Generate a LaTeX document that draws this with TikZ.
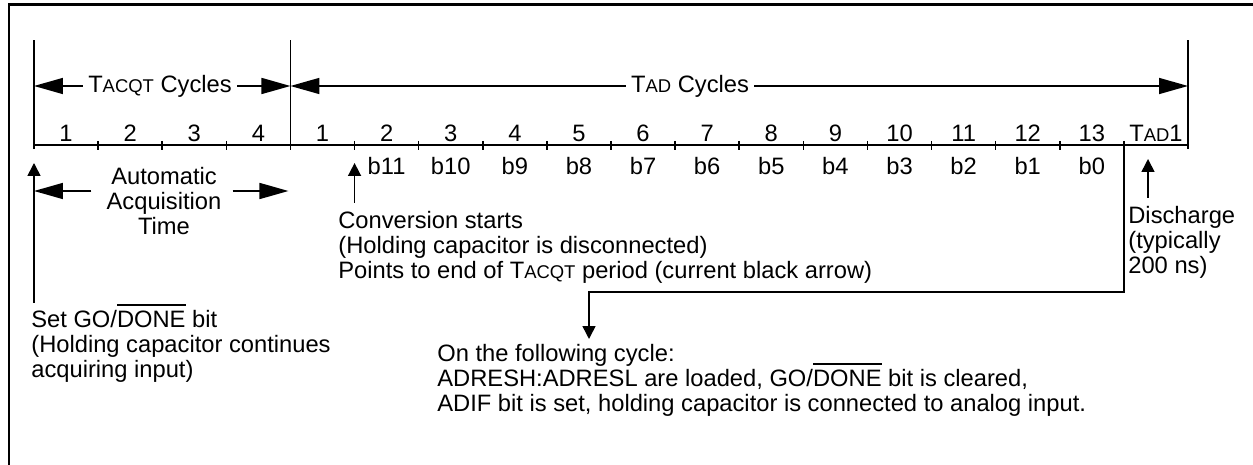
\documentclass[tikz,border=0pt]{standalone}
\usepackage{fontspec}
\setmainfont{Liberation Sans}
\usetikzlibrary{arrows.meta}
\newcommand{\scap}[1]{{\fontsize{10.5}{12}\selectfont #1}}
\newcommand{\ovl}[1]{{\setbox0\hbox{#1}\rlap{\smash{\rule[0.92em]{\wd0}{0.06em}}}\box0}}

\begin{document}
\begin{tikzpicture}[x=0.02cm,y=-0.02cm,
	txt/.style={inner sep=0pt,font=\fontsize{13.5}{14.2}\selectfont},
	frame/.style={line width=1.7pt},
	axis/.style={line width=0.9pt},
	bigarr/.style={line width=0.9pt,-{Triangle[length=0.58cm,width=0.32cm]}},
	smallarr/.style={line width=0.9pt,-{Triangle[length=0.26cm,width=0.26cm]}}]
		%%%%% START %%%%%
		\useasboundingbox (0,0) rectangle (1253,465);
		\draw[frame] (9,465) -- (9,5) -- (1253,5);
		
		% time axis
		\foreach \i in {0,...,18}
			\coordinate (c\i) at ({34+64.111*\i},145);
		\draw[axis] (c0) -- (c18);
		\foreach \i in {1,...,17}
			\draw[axis] ([yshift=0.08cm]c\i) -- ([yshift=-0.1cm]c\i);
		\foreach \i in {0,4,18}
			\draw[axis] ([yshift=-0.08cm]c\i) -- ++(0,-109);
		
		% cycle numbers
		\foreach \n [count=\i from 0] in {1,2,3,4,1,2,3,4,5,6,7,8,9,10,11,12,13,{T\scap{AD}1}}
			\node[txt,anchor=base] (n\i) at ({66.06+64.111*\i},142) {\n};
		\foreach \b [count=\i from 5] in {11,...,0}
			\node[txt,anchor=base] (b\b) at ({66.06+64.111*\i},175) {b\b};
		
		% period arrows
		\node[txt,fill=white,inner xsep=0.1cm] (acqt) at (160,86) {T\scap{ACQT} Cycles};
		\draw[bigarr] (acqt.west) -- (acqt.west -| c0);
		\draw[bigarr] (acqt.east) -- (acqt.east -| c4);
		\node[txt,fill=white,inner xsep=0.1cm] (tad) at (690,86) {T\scap{AD} Cycles};
		\draw[bigarr] (tad.west) -- (tad.west -| c4);
		\draw[bigarr] (tad.east) -- (tad.east -| c18);
		
		% acquisition time
		\node[txt,align=center] (auto) at (164,201) {Automatic\\Acquisition\\Time};
		\draw[bigarr] ([shift={(-0.3cm,0.2cm)}]auto.west) coordinate (al) -- (al -| c0);
		\draw[bigarr] ([shift={(0.22cm,0.2cm)}]auto.east) coordinate (ar) -- ([xshift=-0.04cm]ar -| c4);
		
		% notes
		\node[txt,align=left,anchor=north west] (setgo) at (31,310)
			{Set GO/\ovl{DONE} bit\\(Holding capacitor continues\\acquiring input)};
		\draw[smallarr] ([yshift=0.14cm]setgo.north west -| c0) -- ([yshift=-0.36cm]c0);
		
		\node[txt,align=left,anchor=north west] (conv) at (338,211)
			{Conversion starts\\(Holding capacitor is disconnected)\\Points to end of T\scap{ACQT} period (current black arrow)};
		\draw[smallarr] ([yshift=0.16cm]conv.north -| c5) -- ([yshift=-0.36cm]c5);
		
		\coordinate (dtip) at (1148,159);
		\node[txt,align=left,anchor=north west] (dis) at (1128,206)
			{Discharge\\(typically\\200 ns)};
		\draw[smallarr] ([yshift=0.16cm]dis.north -| dtip) -- (dtip);
		
		\coordinate (ftip) at (589,339);
		\node[txt,align=left,anchor=north west] (fol) at (437,344)
			{On the following cycle:\\ADRESH:ADRESL are loaded, GO/\ovl{DONE} bit is cleared,\\ADIF bit is set, holding capacitor is connected to analog input.};
		\draw[smallarr] (c17) -- ++(0,147) -| (ftip);
		%%%%% END %%%%%
\end{tikzpicture}
\end{document}
